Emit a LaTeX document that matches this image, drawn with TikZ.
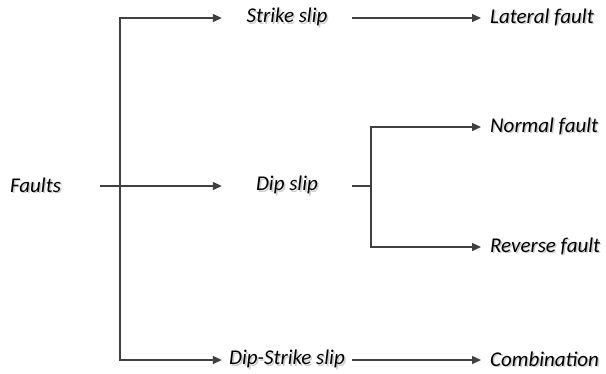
\documentclass[tikz,border=0pt]{standalone}
\usepackage{fontspec}
\setmainfont{Carlito}
\usetikzlibrary{arrows.meta}
\definecolor{ink}{HTML}{404040}
\definecolor{shade}{HTML}{CCCCCC}
% italic label with a faint drop shadow behind it
\newcommand\shtext[1]{\makebox[0pt][l]{\raisebox{-1.5pt}{\hspace{1.5pt}\textcolor{shade}{#1}}}#1}
\tikzset{
  lbl/.style={inner sep=0pt, font=\fontsize{21}{24}\selectfont\itshape, text=black},
  midbox/.style={lbl, minimum width=130pt},
  rightbox/.style={lbl, anchor=west, inner xsep=9pt},
  conn/.style={draw=ink, line width=1.4pt},
  arr/.style={conn, -{Triangle[length=9pt,width=8pt]}}
}
\begin{document}
\begin{tikzpicture}[x=1pt,y=-1pt]
  \useasboundingbox (0,0) rectangle (606,373);
  % root
  \node[lbl, minimum width=129pt] (faults) at (35.5,186) {\shtext{Faults}};
  % middle column
  \node[midbox] (strike) at (287,18) {\shtext{Strike slip}};
  \node[midbox] (dip) at (287,186) {\shtext{Dip slip}};
  \node[midbox] (dipstrike) at (287,360) {\shtext{Dip-Strike slip}};
  % right column
  \node[rightbox] (lateral) at (481,18) {\shtext{Lateral fault}};
  \node[rightbox] (normal) at (481,127) {\shtext{Normal fault}};
  \node[rightbox] (reverse) at (481,247) {\shtext{Reverse fault}};
  \node[rightbox] (combo) at (481,360) {\shtext{Combination}};
  % junction points
  \coordinate (trunk) at (120,186);
  \coordinate (branch) at (371,186);
  % connectors
  \draw[arr] (faults.east) -- (dip.west);
  \draw[arr] (trunk) |- (strike.west);
  \draw[arr] (trunk) |- (dipstrike.west);
  \draw[arr] (strike.east) -- (lateral.west);
  \draw[conn] (dip.east) -- (branch);
  \draw[arr] (branch) |- (normal.west);
  \draw[arr] (branch) |- (reverse.west);
  \draw[arr] (dipstrike.east) -- (combo.west);
\end{tikzpicture}
\end{document}
